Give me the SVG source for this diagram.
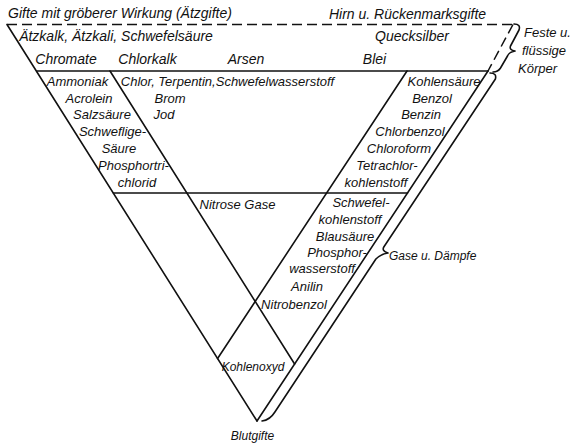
<svg xmlns="http://www.w3.org/2000/svg" width="572" height="448" viewBox="0 0 572 448">
<style>
  .ln { stroke: #111; stroke-width: 1.6; fill: none; stroke-linecap: round; stroke-linejoin: round; }
  .ds { stroke: #111; stroke-width: 1.5; fill: none; stroke-dasharray: 10 5; }
  text { font-family: "Liberation Sans", Arial, sans-serif; font-style: italic; fill: #111; text-anchor: middle; }
  .t14 { font-size: 14px; }
  .t13 { font-size: 13px; }
  .t12 { font-size: 12px; }
  .st { text-anchor: start; }
</style>
<rect width="572" height="448" fill="#fff"/>
<g id="connectors">
  <!-- dashed upper frame -->
  <line class="ds" x1="7" y1="24.5" x2="513" y2="24.5"/>
  <line class="ds" x1="513" y1="24.5" x2="488" y2="71"/>
  <!-- main triangle -->
  <line class="ln" x1="7" y1="24.5" x2="257" y2="421"/>
  <line class="ln" x1="37" y1="71" x2="488" y2="71"/>
  <line class="ln" x1="488" y1="71" x2="257" y2="421"/>
  <!-- inner dividers -->
  <line class="ln" x1="110" y1="71" x2="294.6" y2="364"/>
  <line class="ln" x1="407" y1="71" x2="217.6" y2="358.5"/>
  <line class="ln" x1="113.4" y1="193" x2="407.5" y2="193"/>
  <!-- braces -->
  <path class="ln" d="M 514,24 Q 521,24 519,30 L 510.5,46 Q 509,50 515,51 Q 509,52 507.5,56 L 500.5,68 Q 498,72 493,72"/>
  <path class="ln" d="M 490,73 Q 497,73 495.4,79 L 383.8,247 Q 381.5,251 388,253 Q 381,254 375.9,259 L 274.9,412 Q 270,420 262,421"/>
</g>
<g id="header">
  <text class="t14" x="120" y="18">Gifte mit gröberer Wirkung (Ätzgifte)</text>
  <text class="t14" x="407.5" y="18.5">Hirn u. Rückenmarksgifte</text>
</g>
<g id="solids">
  <text class="t14" x="116" y="41">Ätzkalk, Ätzkali, Schwefelsäure</text>
  <text class="t14" x="412" y="41">Quecksilber</text>
  <text class="t14" x="66" y="64">Chromate</text>
  <text class="t14" x="147.5" y="64">Chlorkalk</text>
  <text class="t14" x="246" y="64">Arsen</text>
  <text class="t14" x="374.5" y="64">Blei</text>
</g>
<g id="left-column">
  <text class="t13" x="77.5" y="86">Ammoniak</text>
  <text class="t13" x="89" y="103">Acrolein</text>
  <text class="t13" x="102" y="119">Salzsäure</text>
  <text class="t13" x="112.5" y="136">Schweflige-</text>
  <text class="t13" x="119" y="153">Säure</text>
  <text class="t13" x="133.5" y="170">Phosphortri-</text>
  <text class="t13" x="137" y="187">chlorid</text>
</g>
<g id="middle-upper">
  <text class="t13" x="227.5" y="86">Chlor, Terpentin,Schwefelwasserstoff</text>
  <text class="t13" x="170" y="103">Brom</text>
  <text class="t13" x="164" y="119">Jod</text>
</g>
<g id="right-upper">
  <text class="t13" x="444" y="86">Kohlensäure</text>
  <text class="t13" x="432" y="103">Benzol</text>
  <text class="t13" x="421" y="119">Benzin</text>
  <text class="t13" x="410" y="136">Chlorbenzol</text>
  <text class="t13" x="399" y="153">Chloroform</text>
  <text class="t13" x="387" y="170">Tetrachlor-</text>
  <text class="t13" x="376" y="187">kohlenstoff</text>
</g>
<g id="middle-lower">
  <text class="t13" x="237.5" y="209">Nitrose Gase</text>
</g>
<g id="right-lower">
  <text class="t13" x="361" y="207">Schwefel-</text>
  <text class="t13" x="350" y="224">kohlenstoff</text>
  <text class="t13" x="345" y="241">Blausäure</text>
  <text class="t13" x="337" y="257">Phosphor-</text>
  <text class="t13" x="322" y="273">wasserstoff</text>
  <text class="t13" x="307" y="291">Anilin</text>
  <text class="t13" x="294" y="309">Nitrobenzol</text>
</g>
<g id="bottom">
  <text class="t12" x="253" y="371">Kohlenoxyd</text>
  <text class="t12" x="252.5" y="440">Blutgifte</text>
</g>
<g id="labels">
  <text class="t13 st" x="524" y="37">Feste u.</text>
  <text class="t13 st" x="522" y="55">flüssige</text>
  <text class="t13 st" x="518" y="73">Körper</text>
  <text class="t12 st" x="389" y="260">Gase u. Dämpfe</text>
</g>
</svg>
